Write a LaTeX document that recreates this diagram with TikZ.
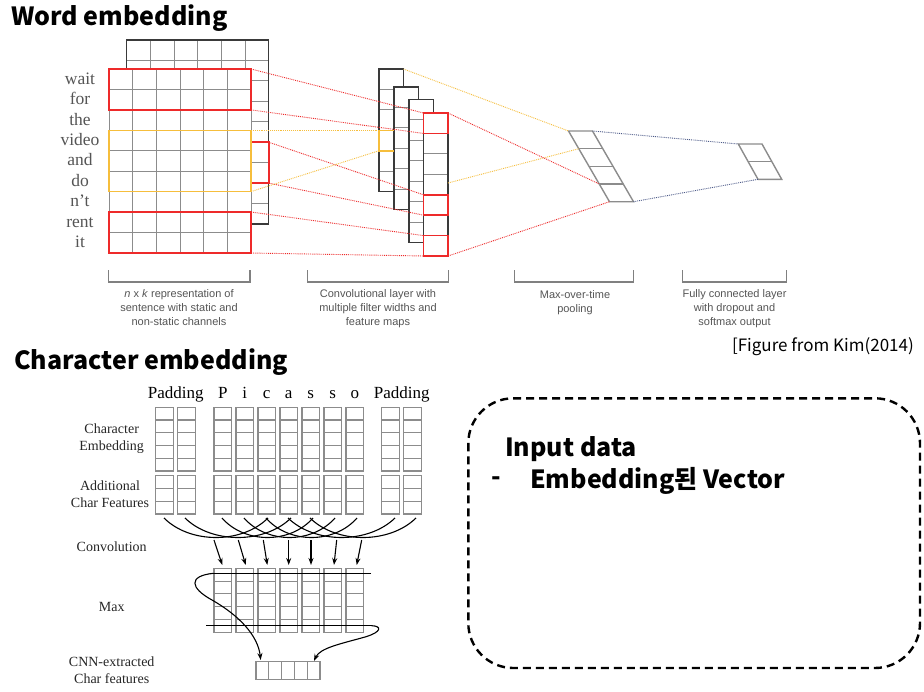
\documentclass[tikz,border=0pt]{standalone}
\usepackage{fontspec}
\setmainfont{Liberation Serif}
\newfontfamily\capfont{Liberation Sans}
\newfontfamily\krfont{Noto Sans CJK KR}
\usetikzlibrary{arrows.meta}

\definecolor{cellgray}{HTML}{8C8C8C}
\definecolor{edgedark}{HTML}{3A3A3A}
\definecolor{kimred}{HTML}{EE2A2A}
\definecolor{kimyellow}{HTML}{F6BE3C}
\definecolor{kimblue}{HTML}{4C5A88}
\definecolor{textgray}{HTML}{555555}

\tikzset{
  cell/.style={draw=cellgray, line width=1pt},
  redbox/.style={draw=kimred, line width=1.6pt},
  yellowbox/.style={draw=kimyellow, line width=1.6pt},
  redlink/.style={kimred, line width=0.9pt, densely dotted},
  yellowlink/.style={kimyellow, line width=0.9pt, densely dotted},
  bluelink/.style={kimblue, line width=0.9pt, densely dotted},
  bracketline/.style={draw=gray, line width=1.2pt},
  capnote/.style={font=\capfont\fontsize{11}{14}\selectfont, text=textgray, align=center, anchor=north, inner sep=0pt},
  wordlabel/.style={font=\fontsize{17.5}{20}\selectfont, text=textgray, anchor=base},
  titletext/.style={font=\krfont\bfseries\fontsize{25}{30}\selectfont, anchor=west, inner sep=0pt},
  charhead/.style={font=\fontsize{17}{20}\selectfont, anchor=base, inner sep=0pt},
  charlabel/.style={font=\fontsize{14}{17}\selectfont, align=center, text=black!85},
  charbox/.style={draw=cellgray, line width=1.1pt},
  convarrow/.style={-{Stealth[length=7pt,width=5pt]}, line width=1.1pt},
}

\begin{document}
\begin{tikzpicture}[x=1pt, y=-1pt]
  % Page frame
  \fill[white] (0,0) rectangle (924,691);

  % Section titles
  \node[titletext] (word-title) at (11,18) {Word embedding};
  \node[titletext] (char-title) at (14,362) {Character embedding};
  \node[font=\krfont\fontsize{17}{20}\selectfont, anchor=east, inner sep=0pt] (kim-ref) at (914,347) {[Figure from Kim(2014)};

  % Sentence matrix, back channel
  \fill[white] (126.7,40) rectangle (268.7,224);
  \foreach \i in {1,...,5} \draw[cell] ({126.7+23.67*\i},40) -- ++(0,184);
  \foreach \j in {1,...,8} \draw[cell] (126.7,{40+20.44*\j}) -- ++(142,0);
  \draw[edgedark, line width=1.4pt] (126.7,40) rectangle (268.7,224);
  \draw[redbox] (251,142.2) rectangle (268.7,183.1);

  % Sentence matrix, front channel
  \fill[white] (109,69) rectangle (251,253);
  \foreach \i in {1,...,5} \draw[cell] ({109+23.67*\i},69) -- ++(0,184);
  \foreach \j in {1,...,8} \draw[cell] (109,{69+20.44*\j}) -- ++(142,0);
  \draw[cell] (109,69) rectangle (251,253);
  \draw[redbox] (109,69) rectangle (251,109.9);
  \draw[yellowbox] (109,130.3) rectangle (251,191.6);
  \draw[redbox] (109,212) rectangle (251,253);

  % Words of the sentence
  \foreach \w [count=\i from 0] in {wait,for,the,video,and,do,n't,rent,it}
    \node[wordlabel] (word-\i) at (80,{84.2+20.44*\i}) {\w};

  % Feature maps
  \foreach \mx/\my/\mr in {379/69/6, 394/87/6, 409/99.5/7, 423.5/113/7}{
    \pgfmathtruncatemacro\last{\mr-1}
    \fill[white] (\mx,\my) rectangle ++(24.5,{20.44*\mr});
    \foreach \j in {1,...,\last} \draw[cell] (\mx,{\my+20.44*\j}) -- ++(24.5,0);
    \draw[edgedark, line width=1.3pt] (\mx,\my) rectangle ++(24.5,{20.44*\mr});
  }
  \draw[yellowbox] (394,130.3) -- (379,130.3) -- (379,150.7) -- (394,150.7);
  \foreach \r in {0,4,6} \draw[redbox] (423.5,{113+20.44*\r}) rectangle ++(24.5,20.44);

  % Max-over-time pooling
  \draw[cellgray, line width=1.4pt] (568.5,131) -- (592.5,131) -- (633.5,201.7) -- (609.5,201.7) -- cycle;
  \foreach \k in {1,2,3} \draw[cellgray, line width=1.4pt] ({568.5+10.25*\k},{131+17.675*\k}) -- ++(24,0);

  % Fully connected output
  \draw[cellgray, line width=1.4pt] (738.3,144) -- (762,144) -- (781.7,179.3) -- (758,179.3) -- cycle;
  \draw[cellgray, line width=1.4pt] (748.2,161.7) -- ++(23.7,0);

  % Links between layers
  \draw[redlink] (251,69) -- (423.5,113);
  \draw[redlink] (251,109.9) -- (423.5,133.4);
  \draw[redlink] (268.7,142.2) -- (423.5,194.8);
  \draw[redlink] (268.7,183.1) -- (423.5,215.2);
  \draw[redlink] (251,212) -- (423.5,235.6);
  \draw[redlink] (251,253) -- (423.5,256);
  \draw[yellowlink] (251,130.3) -- (379,130.3);
  \draw[yellowlink] (251,191.6) -- (379,150.7);
  \draw[yellowlink] (403.5,69) -- (568.5,131);
  \draw[yellowlink] (448,183) -- (578.8,148.7);
  \draw[redlink] (448,113) -- (599.3,184);
  \draw[redlink] (448,256) -- (609.5,201.7);
  \draw[bluelink] (592.5,131) -- (738.3,144);
  \draw[bluelink] (633.5,201.7) -- (758,179.3);

  % Brackets and captions
  \foreach \bl/\br in {108.3/250, 307.7/448.3, 514.3/633.3, 682.3/786.7}
    \draw[bracketline] (\bl,270) -- (\bl,282) -- (\br,282) -- (\br,270);
  \node[capnote] (cap-matrix) at (179,289) {\textit{n} x \textit{k} representation of\\sentence with static and\\non-static channels};
  \node[capnote] (cap-conv) at (378,289) {Convolutional layer with\\multiple filter widths and\\feature maps};
  \node[capnote] (cap-pool) at (575,290) {Max-over-time\\pooling};
  \node[capnote] (cap-fc) at (734.5,289) {Fully connected layer\\with dropout and\\softmax output};

  % Character header
  \node[charhead] (pad-left) at (175.7,398) {Padding};
  \foreach \ch [count=\k from 0] in {P,i,c,a,s,s,o}
    \node[charhead] (letter-\k) at ({222.75+22*\k},398) {\ch};
  \node[charhead] (pad-right) at (401.7,398) {Padding};

  % Character columns
  \foreach \cx in {155.7,177.7,214,236,258,280,302,324,346,381.7,403.7}{
    \foreach \j in {1,...,4} \draw[charbox] (\cx,{407.3+12.74*\j}) -- ++(17.5,0);
    \draw[charbox] (\cx,407.3) rectangle ++(17.5,63.7);
    \foreach \j in {1,2} \draw[charbox] (\cx,{475.7+12.77*\j}) -- ++(17.5,0);
    \draw[charbox] (\cx,475.7) rectangle ++(17.5,38.3);
  }

  % Row labels
  \node[charlabel] (lab-emb) at (111.7,439) {Character\\Embedding};
  \node[charlabel] (lab-feat) at (110,494.5) {Additional\\Char Features};
  \node[charlabel] (lab-conv) at (111.7,546.7) {Convolution};
  \node[charlabel] (lab-max) at (111.7,607.3) {Max};
  \node[charlabel] (lab-cnn) at (111.7,670) {CNN-extracted\\Char features};

  % Convolution windows
  \foreach \a/\b in {164/268, 185/291, 222/313, 244/335, 266/357, 288/395, 310/416}
    \draw[line width=1.1pt] (\a,518) .. controls ({\a+(\b-\a)/4},544) and ({\b-(\b-\a)/4},544) .. (\b,518);
  \foreach \p/\q in {214/222.3, 238.3/245.7, 263.3/267.3, 288.7/288.7, 311/311, 336.7/334, 361.7/356.7}
    \draw[convarrow] (\p,540) -- (\q,565);

  % Convolution output
  \foreach \cx in {214,236,258,280,302,324,346}{
    \foreach \j in {1,...,4} \draw[charbox] (\cx,{568.3+12.8*\j}) -- ++(17.5,0);
    \draw[charbox] (\cx,568.3) rectangle ++(17.5,64);
  }
  \draw[line width=1.2pt] (371,573.3) -- (213.3,573.3);
  \draw[line width=1.2pt] (206,625.7) -- (371.7,625.7);

  % Max pooling curves
  \draw[convarrow] (213.3,573.3) .. controls (188,576) and (190,588) .. (212,600)
    .. controls (240,616) and (258,636) .. (260.7,660);
  \draw[convarrow] (371.7,625.7) .. controls (382,626) and (382,632) .. (365,637)
    .. controls (340,644) and (320,648) .. (314,661);

  % Extracted features
  \foreach \k in {0,...,4} \draw[charbox] ({256+12.8*\k},661.7) rectangle ++(12.8,17.6);

  % Note box
  \draw[line width=2.4pt, dash pattern=on 8pt off 5pt, rounded corners=45pt] (468.3,398.3) rectangle (920,668);
  \node[font=\krfont\bfseries\fontsize{25}{30}\selectfont, anchor=west, inner sep=0pt] (note-head) at (505,449) {Input data};
  \node[font=\krfont\bfseries\fontsize{25}{30}\selectfont, anchor=west, inner sep=0pt] (note-dash) at (491,481) {-};
  \node[font=\krfont\bfseries\fontsize{25}{30}\selectfont, anchor=west, inner sep=0pt] (note-item) at (530,481) {Embedding된 Vector};
\end{tikzpicture}
\end{document}
